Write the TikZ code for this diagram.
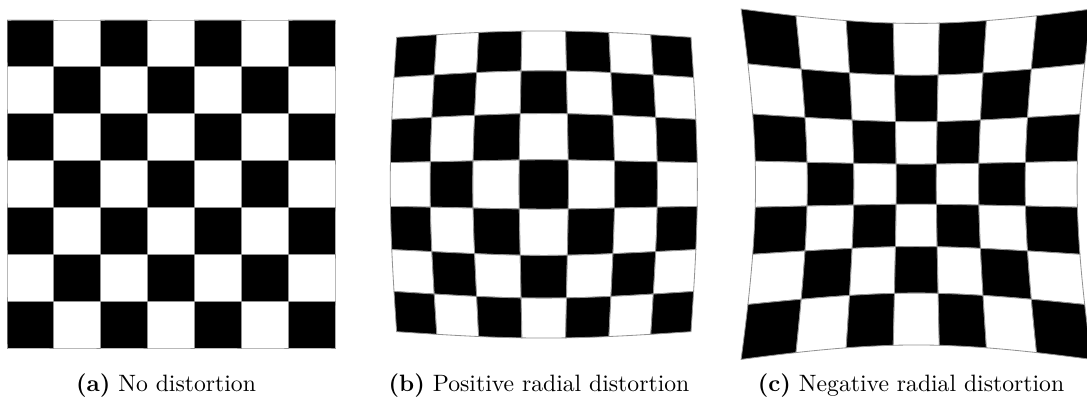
\documentclass[tikz,border=0pt]{standalone}
\begin{document}
\begin{tikzpicture}[x=0.4225pt,y=-0.4225pt,
  declare function={
    ax(\ua,\va)=171+164*(\ua);
    ay(\ua,\va)=184+164*(\va);
    bf(\ua,\va)=176.9-29.0*sqrt((\ua)*(\ua)+(\va)*(\va))+5.64*((\ua)*(\ua)+(\va)*(\va));
    bx(\ua,\va)=543.8+(\ua)*bf(\ua,\va);
    by(\ua,\va)=184.5+(\va)*bf(\ua,\va);
    cf(\ua,\va)=137.7+14.78*sqrt((\ua)*(\ua)+(\va)*(\va))+8.29*((\ua)*(\ua)+(\va)*(\va));
    cx(\ua,\va)=916.3+(\ua)*cf(\ua,\va);
    cy(\ua,\va)=184.2+(\va)*cf(\ua,\va);
  },
  cellbox/.style={draw=gray!85,line width=0.35pt},
  edgeplot/.style={variable=\t,domain=0:1,samples=7},
  captext/.style={font=\fontsize{10}{12}\selectfont,anchor=base,inner sep=0pt}
]
\useasboundingbox (0,0) rectangle (1087,405);
\newcommand\distcell[5]{%
  \pgfmathsetmacro\uA{-1+2*#3/7}%
  \pgfmathsetmacro\vA{-1+2*#4/7}%
  \pgfmathsetmacro\uB{-1+2*(#3+1)/7}%
  \pgfmathsetmacro\vB{-1+2*(#4+1)/7}%
  \filldraw[cellbox,fill=#5]
    plot[edgeplot] ({#1(\uA+0.285714*\t,\vA)},{#2(\uA+0.285714*\t,\vA)})
    -- plot[edgeplot] ({#1(\uB,\vA+0.285714*\t)},{#2(\uB,\vA+0.285714*\t)})
    -- plot[edgeplot] ({#1(\uB-0.285714*\t,\vB)},{#2(\uB-0.285714*\t,\vB)})
    -- plot[edgeplot] ({#1(\uA,\vB-0.285714*\t)},{#2(\uA,\vB-0.285714*\t)})
    -- cycle;
}
\foreach \i in {0,...,6}{
  \foreach \j in {0,...,6}{
    \pgfmathtruncatemacro\parity{mod(\i+\j,2)}
    \ifnum\parity=0 \def\col{black}\else\def\col{white}\fi
    \distcell{ax}{ay}{\i}{\j}{\col}
    \distcell{bx}{by}{\i}{\j}{\col}
    \distcell{cx}{cy}{\i}{\j}{\col}
  }
}
\node[captext] (capa) at (166,391) {\textbf{(a)} No distortion};
\node[captext] (capb) at (539,391) {\textbf{(b)} Positive radial distortion};
\node[captext] (capc) at (911,391) {\textbf{(c)} Negative radial distortion};
\end{tikzpicture}
\end{document}
